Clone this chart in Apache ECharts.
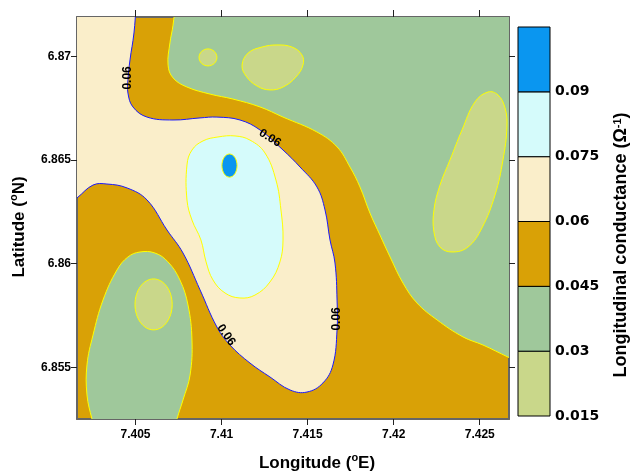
<!DOCTYPE html>
<html>
<head>
<meta charset="utf-8">
<script src="https://cdn.jsdelivr.net/npm/echarts@6/dist/echarts.min.js"></script>
<style>
  html, body { margin: 0; padding: 0; background: #fff; }
  #chart { width: 632px; height: 474px; }
</style>
</head>
<body>
<div id="chart"></div>
<script>
// axis ticks
const lonTicks = [7.405, 7.41, 7.415, 7.42, 7.425]
const latTicks = [6.855, 6.86, 6.865, 6.87]

// colour classes of the conductance (Ω-1)
const levels = [0.015, 0.03, 0.045, 0.06, 0.075, 0.09, 0.105]
const levelColors = ['#c9d78a', '#9fc89b', '#d9a106', '#faeeca', '#d5fbfb', '#0a96f0']

// contour zones, [lon, lat] vertices
const creamZone = [[7.40061, 6.87369], [7.40509, 6.87369], [7.40503, 6.87248], [7.40491, 6.87113], [7.40468, 6.86983], [7.40456, 6.86886], [7.40456, 6.86823], [7.40485, 6.86756], [7.40567, 6.86707], [7.40718, 6.86693], [7.40875, 6.86703], [7.40973, 6.86707], [7.41107, 6.86693], [7.41223, 6.86645], [7.41357, 6.86548], [7.41456, 6.86466], [7.41554, 6.86370], [7.41601, 6.86259], [7.41630, 6.86114], [7.41659, 6.86003], [7.41671, 6.85824], [7.41671, 6.85680], [7.41647, 6.85511], [7.41589, 6.85424], [7.41496, 6.85380], [7.41398, 6.85390], [7.41281, 6.85453], [7.41165, 6.85520], [7.41049, 6.85607], [7.40973, 6.85694], [7.40875, 6.85873], [7.40776, 6.86051], [7.40683, 6.86162], [7.40567, 6.86307], [7.40451, 6.86365], [7.40334, 6.86384], [7.40253, 6.86379], [7.40160, 6.86317], [7.40061, 6.86259]]
const cyanZone = [[7.40799, 6.86476], [7.40828, 6.86548], [7.40892, 6.86592], [7.40979, 6.86611], [7.41078, 6.86616], [7.41165, 6.86596], [7.41252, 6.86534], [7.41316, 6.86403], [7.41345, 6.86259], [7.41357, 6.86114], [7.41339, 6.86008], [7.41281, 6.85911], [7.41194, 6.85848], [7.41107, 6.85834], [7.41020, 6.85858], [7.40950, 6.85921], [7.40910, 6.86008], [7.40880, 6.86114], [7.40828, 6.86210], [7.40799, 6.86307]]
const greenNorthEast = [[7.40735, 6.87369], [7.42792, 6.87369], [7.42792, 6.85501], [7.42664, 6.85549], [7.42519, 6.85607], [7.42403, 6.85646], [7.42252, 6.85728], [7.42135, 6.85810], [7.42054, 6.85906], [7.41979, 6.86032], [7.41920, 6.86138], [7.41862, 6.86244], [7.41804, 6.86370], [7.41746, 6.86466], [7.41671, 6.86563], [7.41554, 6.86635], [7.41357, 6.86707], [7.41223, 6.86756], [7.41066, 6.86794], [7.40933, 6.86818], [7.40799, 6.86852], [7.40718, 6.86896], [7.40689, 6.86958], [7.40700, 6.87065], [7.40718, 6.87151], [7.40729, 6.87248]]
const greenSouthWest = [[7.40526, 6.86056], [7.40613, 6.86051], [7.40689, 6.86008], [7.40758, 6.85921], [7.40805, 6.85800], [7.40828, 6.85631], [7.40817, 6.85462], [7.40776, 6.85342], [7.40741, 6.85250], [7.40712, 6.85149], [7.40282, 6.85149], [7.40247, 6.85250], [7.40218, 6.85366], [7.40218, 6.85511], [7.40253, 6.85655], [7.40311, 6.85824], [7.40392, 6.85969], [7.40456, 6.86032]]
const oliveNorth = [[7.41119, 6.86958], [7.41154, 6.87016], [7.41235, 6.87045], [7.41322, 6.87055], [7.41409, 6.87045], [7.41467, 6.87007], [7.41473, 6.86958], [7.41432, 6.86900], [7.41357, 6.86852], [7.41281, 6.86838], [7.41206, 6.86857], [7.41142, 6.86905]]
const oliveEast = [[7.42548, 6.86828], [7.42606, 6.86814], [7.42647, 6.86751], [7.42658, 6.86659], [7.42635, 6.86500], [7.42589, 6.86331], [7.42513, 6.86172], [7.42432, 6.86080], [7.42339, 6.86056], [7.42269, 6.86080], [7.42234, 6.86152], [7.42234, 6.86259], [7.42269, 6.86379], [7.42327, 6.86500], [7.42397, 6.86645], [7.42472, 6.86780]]
const zones = [creamZone, cyanZone, greenNorthEast, greenSouthWest, oliveNorth, oliveEast]
const zoneBands = [3, 4, 1, 1, 0, 0]

// small closed spots: centre and half extent
const spotCenters = [[7.40921, 6.86995], [7.40605, 6.85803], [7.41046, 6.86473]]
const spotRadii = [[0.00052, 0.00041], [0.00108, 0.00123], [0.00044, 0.00056]]
const spotBands = [0, 0, 5]

// labels on the 0.06 contour
const contourLabelPos = [[7.40456, 6.86896], [7.41281, 6.86606], [7.41026, 6.85655], [7.41671, 6.85733]]
const contourLabelAngle = [90, -32, -55, 90]
const contourLabelText = '0.06'

const tickFont = '"Liberation Sans Narrow", "Arial Narrow", "Liberation Sans", sans-serif'
const textFont = '"Liberation Sans", Arial, sans-serif'
const frame = { color: '#666', width: 2 }
const supStyle = { fontSize: 11, lineHeight: 11, verticalAlign: 'top', color: '#000', fontFamily: textFont, fontWeight: 'bold' }

function lineColor(band) {
  return band === 3 ? '#1a1aff' : '#ffff00'
}

const chart = echarts.init(document.getElementById('chart'))

const option = {
  animation: false,
  grid: [
    {
      left: 77, top: 17, right: 123, bottom: 55, outerBoundsMode: 'none', containLabel: false,
      show: true, backgroundColor: levelColors[2], borderWidth: 0
    },
    { left: 518, top: 27, width: 32, height: 389, outerBoundsMode: 'none', containLabel: false }
  ],
  xAxis: [
    {
      gridIndex: 0, type: 'value', min: 7.4016, max: 7.4267, position: 'bottom',
      axisLine: { show: true, onZero: false, lineStyle: frame },
      axisTick: { show: true, customValues: lonTicks, length: 6, lineStyle: { color: '#222' } },
      axisLabel: {
        customValues: lonTicks, margin: 10, color: '#000', fontFamily: tickFont, fontWeight: 'bold', fontSize: 12,
        formatter: v => String(+v.toFixed(3))
      },
      splitLine: { show: false },
      name: 'Longitude ({sup|o}E)', nameLocation: 'middle', nameGap: 33,
      nameTextStyle: {
        fontSize: 17, lineHeight: 22, fontWeight: 'bold', color: '#000', fontFamily: textFont,
        padding: [0, 0, 0, 48], rich: { sup: supStyle }
      }
    },
    {
      gridIndex: 0, type: 'value', min: 7.4016, max: 7.4267, position: 'top',
      axisLine: { show: true, onZero: false, lineStyle: frame },
      axisTick: { show: true, customValues: lonTicks, length: 7, lineStyle: { color: '#222' } },
      axisLabel: { show: false },
      splitLine: { show: false }
    },
    { gridIndex: 1, type: 'value', min: 0, max: 1, show: false }
  ],
  yAxis: [
    {
      gridIndex: 0, type: 'value', min: 6.8525, max: 6.8719, position: 'left',
      axisLine: { show: true, onZero: false, lineStyle: frame },
      axisTick: { show: true, customValues: latTicks, length: 6, lineStyle: { color: '#222' } },
      axisLabel: {
        customValues: latTicks, margin: 6, color: '#000', fontFamily: tickFont, fontWeight: 'bold', fontSize: 12,
        formatter: v => String(+v.toFixed(3))
      },
      splitLine: { show: false },
      name: 'Latitude ({sup|o}N)', nameLocation: 'middle', nameGap: 45,
      nameTextStyle: {
        fontSize: 17, lineHeight: 22, fontWeight: 'bold', color: '#000', fontFamily: textFont,
        padding: [0, 18, 0, 0], rich: { sup: supStyle }
      }
    },
    {
      gridIndex: 0, type: 'value', min: 6.8525, max: 6.8719, position: 'right',
      axisLine: { show: true, onZero: false, lineStyle: frame },
      axisTick: { show: true, customValues: latTicks, length: 6, lineStyle: { color: '#222' } },
      axisLabel: { show: false },
      splitLine: { show: false }
    },
    {
      gridIndex: 1, type: 'value', min: levels[0], max: levels[levels.length - 1], position: 'right',
      axisLine: { show: false }, axisTick: { show: false }, splitLine: { show: false },
      axisLabel: {
        customValues: levels.slice(0, 6), margin: 5, color: '#000',
        fontFamily: '"DejaVu Sans", sans-serif', fontWeight: 'bold', fontSize: 14,
        formatter: v => String(+v.toFixed(3))
      }
    }
  ],
  graphic: [
    {
      type: 'text', x: 621, y: 245, rotation: Math.PI / 2,
      style: {
        text: 'Longitudinal conductance (Ω{sup|-1})',
        font: 'bold 18px ' + textFont, fill: '#000', align: 'center', verticalAlign: 'middle',
        rich: { sup: { fontSize: 11, lineHeight: 11, verticalAlign: 'top', fill: '#000', fontFamily: textFont, fontWeight: 'bold' } }
      }
    }
  ],
  series: [
    {
      type: 'custom', xAxisIndex: 0, yAxisIndex: 0, clip: true, silent: true,
      data: zones.map((_, i) => i),
      renderItem(params, api) {
        const i = params.dataIndex
        const band = zoneBands[i]
        return {
          type: 'polygon',
          shape: { points: zones[i].map(p => api.coord(p)), smooth: 0.4 },
          style: { fill: levelColors[band], stroke: lineColor(band), lineWidth: 1 }
        }
      }
    },
    {
      type: 'custom', xAxisIndex: 0, yAxisIndex: 0, clip: true, silent: true,
      data: spotCenters.map((_, i) => i),
      renderItem(params, api) {
        const i = params.dataIndex
        const c = api.coord(spotCenters[i])
        const s = api.size(spotRadii[i])
        return {
          type: 'ellipse',
          shape: { cx: c[0], cy: c[1], rx: s[0], ry: s[1] },
          style: { fill: levelColors[spotBands[i]], stroke: lineColor(spotBands[i]), lineWidth: 1 }
        }
      }
    },
    {
      type: 'custom', xAxisIndex: 0, yAxisIndex: 0, silent: true, z: 5,
      data: contourLabelPos.map((_, i) => i),
      renderItem(params, api) {
        const i = params.dataIndex
        const c = api.coord(contourLabelPos[i])
        return {
          type: 'text', x: c[0], y: c[1], rotation: contourLabelAngle[i] * Math.PI / 180,
          style: {
            text: contourLabelText, font: 'bold 12px ' + textFont, fill: '#000',
            align: 'center', verticalAlign: 'middle'
          }
        }
      }
    },
    {
      type: 'custom', xAxisIndex: 2, yAxisIndex: 2, silent: true,
      data: levelColors.map((_, i) => i),
      renderItem(params, api) {
        const i = params.dataIndex
        const p0 = api.coord([0, levels[i]])
        const p1 = api.coord([1, levels[i + 1]])
        return {
          type: 'rect',
          shape: { x: p0[0], y: p1[1], width: p1[0] - p0[0], height: p0[1] - p1[1] },
          style: { fill: levelColors[i], stroke: '#000', lineWidth: 1 }
        }
      }
    }
  ]
}

chart.setOption(option)
</script>
</body>
</html>
